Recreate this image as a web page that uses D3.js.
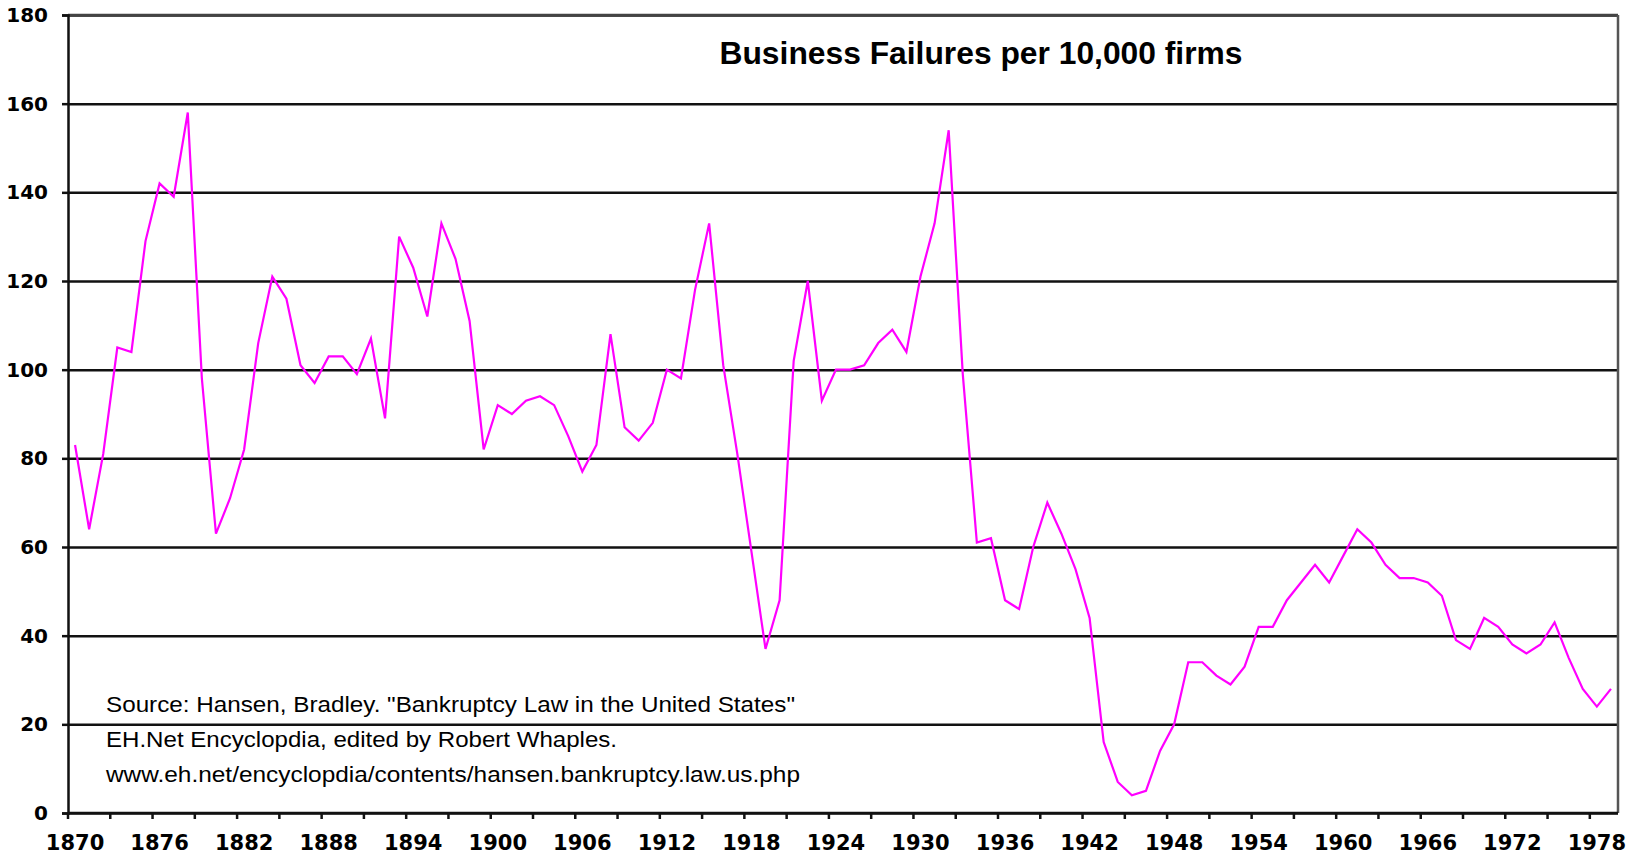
<!DOCTYPE html>
<html>
<head>
<meta charset="utf-8">
<script src="https://cdn.jsdelivr.net/npm/d3@7"></script>
<style>
body { margin: 0; background: #fff; }
</style>
</head>
<body>
<script>
var lineColor = "#ff00ff";

// one category per year, 1870-1979
var years = d3.range(1870, 1980);

var failures = [
  83, 64, 81, 105, 104, 129, 142, 139, 158, 98,
  63, 71, 82, 106, 121, 116, 101, 97, 103, 103,
  99, 107, 89, 130, 123, 112, 133, 125, 111, 82,
  92, 90, 93, 94, 92, 85, 77, 83, 108, 87,
  84, 88, 100, 98, 118, 133, 101, 81, 59, 37,
  48, 102, 120, 93, 100, 100, 101, 106, 109, 104,
  121, 133, 154, 99, 61, 62, 48, 46, 60, 70,
  63, 55, 44, 16, 7, 4, 5, 14, 20, 34,
  34, 31, 29, 33, 42, 42, 48, 52, 56, 52,
  58, 64, 61, 56, 53, 53, 52, 49, 39, 37,
  44, 42, 38, 36, 38, 43, 35, 28, 24, 28
];

var xLabels = [1870, 1876, 1882, 1888, 1894, 1900, 1906, 1912, 1918, 1924,
               1930, 1936, 1942, 1948, 1954, 1960, 1966, 1972, 1978];
var yTicks = [0, 20, 40, 60, 80, 100, 120, 140, 160, 180];

var title = "Business Failures per 10,000 firms";
var sourceLines = [
  "Source: Hansen, Bradley. \"Bankruptcy Law in the United States\"",
  "EH.Net Encyclopdia, edited by Robert Whaples.",
  "www.eh.net/encyclopdia/contents/hansen.bankruptcy.law.us.php"
];

var width = 1631, height = 857;
var margin = {top: 15, right: 13, bottom: 44, left: 68};
var plotW = width - margin.left - margin.right,
    plotH = height - margin.top - margin.bottom;

var x = d3.scaleBand()
    .domain(years)
    .range([0, plotW])
    .padding(0);

var y = d3.scaleLinear()
    .domain([0, 180])
    .range([plotH, 0]);

var svg = d3.select("body").append("svg")
    .attr("width", width)
    .attr("height", height)
  .append("g")
    .attr("transform", "translate(" + margin.left + "," + margin.top + ")");

// horizontal gridlines
svg.append("g")
    .attr("class", "grid")
    .call(d3.axisLeft(y).tickValues(yTicks).tickSize(-plotW).tickFormat(""))
    .call(function(g) { g.select(".domain").remove(); })
    .selectAll("line")
    .attr("stroke", "#111")
    .attr("stroke-width", 2.5);

// plot border (top / right)
svg.append("line")
    .attr("x1", 0).attr("x2", plotW).attr("y1", 0).attr("y2", 0)
    .attr("stroke", "#444").attr("stroke-width", 2.5);
svg.append("line")
    .attr("x1", plotW).attr("x2", plotW).attr("y1", 0).attr("y2", plotH)
    .attr("stroke", "#555").attr("stroke-width", 2.5);

// y axis
var yAxis = svg.append("g")
    .call(d3.axisLeft(y).tickValues(yTicks).tickSize(6).tickPadding(14));
yAxis.select(".domain").attr("stroke", "#111").attr("stroke-width", 2.5);
yAxis.selectAll(".tick line").attr("stroke", "#111").attr("stroke-width", 2.5);
yAxis.selectAll("text")
    .attr("font-family", "DejaVu Sans")
    .attr("font-weight", "bold")
    .attr("font-size", 20)
    .attr("fill", "#000");

// x axis: tick marks every 3 categories, labels every 6
var tickYears = years.filter(function(d, i) { return i % 3 === 0; });
var xg = svg.append("g")
    .attr("transform", "translate(0," + plotH + ")");
xg.append("line")
    .attr("x1", 0).attr("x2", plotW)
    .attr("stroke", "#111").attr("stroke-width", 2.5);
xg.selectAll(".xtick")
    .data(tickYears)
    .enter().append("line")
    .attr("class", "xtick")
    .attr("x1", function(d) { return x(d); })
    .attr("x2", function(d) { return x(d); })
    .attr("y1", 0).attr("y2", 6)
    .attr("stroke", "#111").attr("stroke-width", 2.5);

var labelAxis = d3.axisBottom(x).tickValues(xLabels).tickSize(0).tickPadding(22);
var lg = svg.append("g")
    .attr("transform", "translate(0," + plotH + ")")
    .call(labelAxis);
lg.select(".domain").remove();
lg.selectAll("text")
    .attr("font-family", "DejaVu Sans")
    .attr("font-weight", "bold")
    .attr("font-size", 21)
    .attr("fill", "#000");

// data line
var line = d3.line()
    .x(function(d, i) { return x(years[i]) + x.bandwidth() / 2; })
    .y(function(d) { return y(d); });

svg.append("path")
    .datum(failures)
    .attr("fill", "none")
    .attr("stroke", lineColor)
    .attr("stroke-width", 2.2)
    .attr("stroke-linejoin", "miter")
    .attr("d", line);

// title
svg.append("text")
    .attr("x", 981 - margin.left)
    .attr("y", 64 - margin.top)
    .attr("text-anchor", "middle")
    .attr("font-family", "Liberation Sans")
    .attr("font-weight", "bold")
    .attr("font-size", 31)
    .attr("textLength", 523)
    .attr("lengthAdjust", "spacingAndGlyphs")
    .text(title);

// source note
var srcWidths = [689, 511, 694];
svg.selectAll(".src")
    .data(sourceLines)
    .enter().append("text")
    .attr("class", "src")
    .attr("x", 106 - margin.left)
    .attr("y", function(d, i) { return 712 - margin.top + i * 35; })
    .attr("font-family", "Liberation Sans")
    .attr("font-size", 22)
    .attr("textLength", function(d, i) { return srcWidths[i]; })
    .attr("lengthAdjust", "spacingAndGlyphs")
    .attr("fill", "#000")
    .text(function(d) { return d; });
</script>
</body>
</html>
